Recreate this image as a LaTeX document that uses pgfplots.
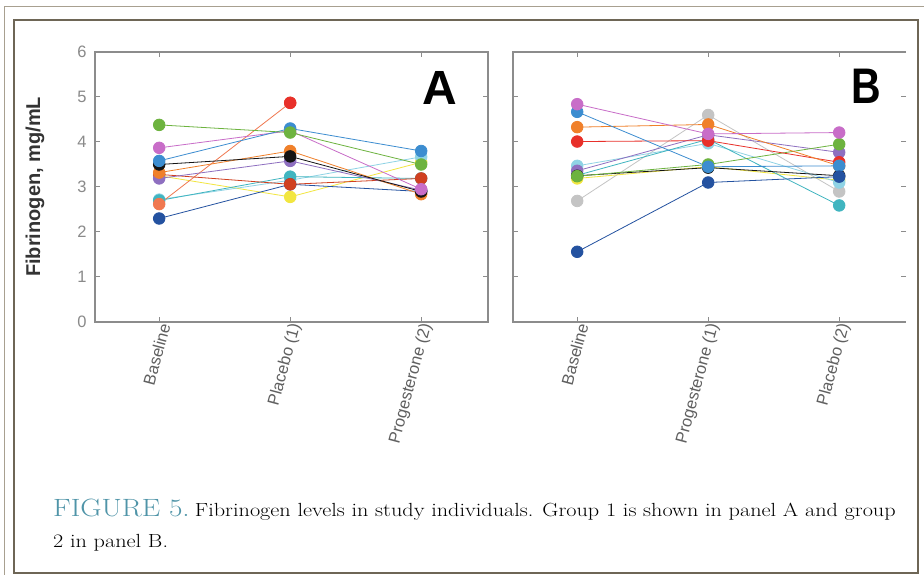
\documentclass[border=0pt]{standalone}
\usepackage{fontspec}
\usepackage{graphicx}
\usepackage{pgfplots}
\pgfplotsset{compat=1.18}
\newfontfamily\arial{Liberation Sans}
\definecolor{axisgray}{HTML}{8C8C8C}
\definecolor{ytl}{HTML}{8A8A8A}
\definecolor{xtl}{HTML}{606060}
\definecolor{capteal}{HTML}{4F94A8}
\definecolor{framed}{HTML}{6E6656}
\definecolor{framel}{HTML}{A8A090}
\definecolor{cgreen}{HTML}{6DB33F}
\definecolor{cmag}{HTML}{C86DC8}
\definecolor{cblue}{HTML}{3C8DD0}
\definecolor{cblack}{HTML}{141414}
\definecolor{cred}{HTML}{E8302A}
\definecolor{corange}{HTML}{F0802A}
\definecolor{csalmon}{HTML}{F07850}
\definecolor{cpurple}{HTML}{8E6FC0}
\definecolor{cteal}{HTML}{40B5C0}
\definecolor{clcyan}{HTML}{8FD3E5}
\definecolor{cyellow}{HTML}{F2E640}
\definecolor{cnavy}{HTML}{2452A0}
\definecolor{cgray}{HTML}{C4C4C4}
\definecolor{cdred}{HTML}{D04020}
\pgfplotsset{
  panel/.style={
    scale only axis, width=393pt, height=270pt,
    xmin=-0.49, xmax=2.51, ymin=0, ymax=6,
    xtick={0,1,2}, ytick={0,1,2,3,4,5,6},
    xtick pos=both, ytick pos=both,
    xticklabel pos=lower, yticklabel pos=left,
    tick align=inside, major tick length=5pt,
    axis line style={draw=axisgray, line width=1.3pt},
    tick style={draw=axisgray, line width=1pt},
    /pgf/number format/assume math mode=true,
    yticklabel style={font=\arial\fontsize{16.5}{16}\selectfont, text=ytl, xshift=-5pt},
    xticklabel style={font=\arial\fontsize{16.5}{16}\selectfont, text=xtl, rotate=75, anchor=east, inner sep=2pt, yshift=-6pt, xshift=2pt},
    clip=false,
  },
  subj/.style={color=#1, line width=0.8pt, mark=*, mark size=5.8pt, mark options={solid, fill=#1, draw=#1}},
}
\begin{document}
\begin{tikzpicture}[x=1pt,y=1pt]
\useasboundingbox (0,0) rectangle (924,575);
\fill[white] (0,0) rectangle (924,575);
% frame
\draw[framel, line width=1pt] (4,0) -- (4,568) -- (924,568);
\draw[framed, line width=2.5pt] (14,2) rectangle (918,555);

% Panel A
\begin{axis}[panel, at={(95pt,253pt)}, anchor=south west,
  xticklabels={Baseline, Placebo (1), Progesterone (2)},
  ylabel={Fibrinogen, mg/mL},
  every axis y label/.style={at={(rel axis cs:0,0.5)}, xshift=-60pt, anchor=center, rotate=90,
    font=\arial\bfseries\fontsize{20}{20}\selectfont, text=black!80},
]
\addplot[subj=cyellow] coordinates {(0,3.25) (1,2.78) (2,3.55)};
\addplot[subj=clcyan] coordinates {(0,2.72) (1,3.15) (2,3.67)};
\addplot[subj=cteal] coordinates {(0,2.70) (1,3.23) (2,3.19)};
\addplot[subj=cnavy] coordinates {(0,2.30) (1,3.06) (2,2.90)};
\addplot[subj=csalmon] coordinates {(0,2.62) (1,4.87)};
\addplot[subj=cred] coordinates {(1,4.87)};
\addplot[subj=cdred] coordinates {(0,3.28) (1,3.06) (2,3.19)};
\addplot[subj=cpurple] coordinates {(0,3.19) (1,3.58) (2,2.93)};
\addplot[subj=corange] coordinates {(0,3.32) (1,3.80) (2,2.84)};
\addplot[subj=cblack] coordinates {(0,3.50) (1,3.68) (2,2.90)};
\addplot[subj=cmag] coordinates {(0,3.87) (1,4.25) (2,2.95)};
\addplot[subj=cblue] coordinates {(0,3.58) (1,4.30) (2,3.80)};
\addplot[subj=cgreen] coordinates {(0,4.38) (1,4.21) (2,3.50)};
\end{axis}

% Panel B
\begin{axis}[panel, at={(513pt,253pt)}, anchor=south west,
  xticklabels={Baseline, Progesterone (1), Placebo (2)},
  yticklabels={},
  axis line style={draw=none},
]
\draw[axisgray, line width=1.3pt] (rel axis cs:1,1) -- (rel axis cs:0,1) -- (rel axis cs:0,0) -- (rel axis cs:1,0);
\addplot[subj=cgray] coordinates {(0,2.69) (1,4.60) (2,2.90)};
\addplot[subj=cyellow] coordinates {(0,3.19) (1,3.45) (2,3.15)};
\addplot[subj=clcyan] coordinates {(0,3.47) (1,3.97) (2,3.10)};
\addplot[subj=cteal] coordinates {(0,3.26) (1,4.06) (2,2.59)};
\addplot[subj=cpurple] coordinates {(0,3.36) (1,4.16) (2,3.77)};
\addplot[subj=cblack] coordinates {(0,3.25) (1,3.43) (2,3.25)};
\addplot[subj=cgreen] coordinates {(0,3.24) (1,3.50) (2,3.95)};
\addplot[subj=cred] coordinates {(0,4.01) (1,4.03) (2,3.55)};
\addplot[subj=corange] coordinates {(0,4.33) (1,4.39) (2,3.47)};
\addplot[subj=cblue] coordinates {(0,4.67) (1,3.45) (2,3.47)};
\addplot[subj=cmag] coordinates {(0,4.84) (1,4.18) (2,4.21)};
\addplot[subj=cnavy] coordinates {(0,1.56) (1,3.10) (2,3.23)};
\end{axis}

% panel letters
\node[font=\arial\bfseries\fontsize{48}{48}\selectfont, inner sep=0] at (440,487) {A};
\node[font=\arial\bfseries\fontsize{50}{50}\selectfont, inner sep=0] at (866,489) {\scalebox{0.82}[1]{B}};

% caption
\node[anchor=base west, inner sep=0] at (53,58) {\scalebox{1.17}[1]{{\fontsize{25}{25}\selectfont\color{capteal}FIGURE 5.} {\fontsize{19}{19}\selectfont Fibrinogen levels in study individuals. Group 1 is shown in panel A and group}}};
\node[anchor=base west, inner sep=0] at (53,27) {\scalebox{1.17}[1]{\fontsize{19}{19}\selectfont 2 in panel B.}};
\end{tikzpicture}
\end{document}
